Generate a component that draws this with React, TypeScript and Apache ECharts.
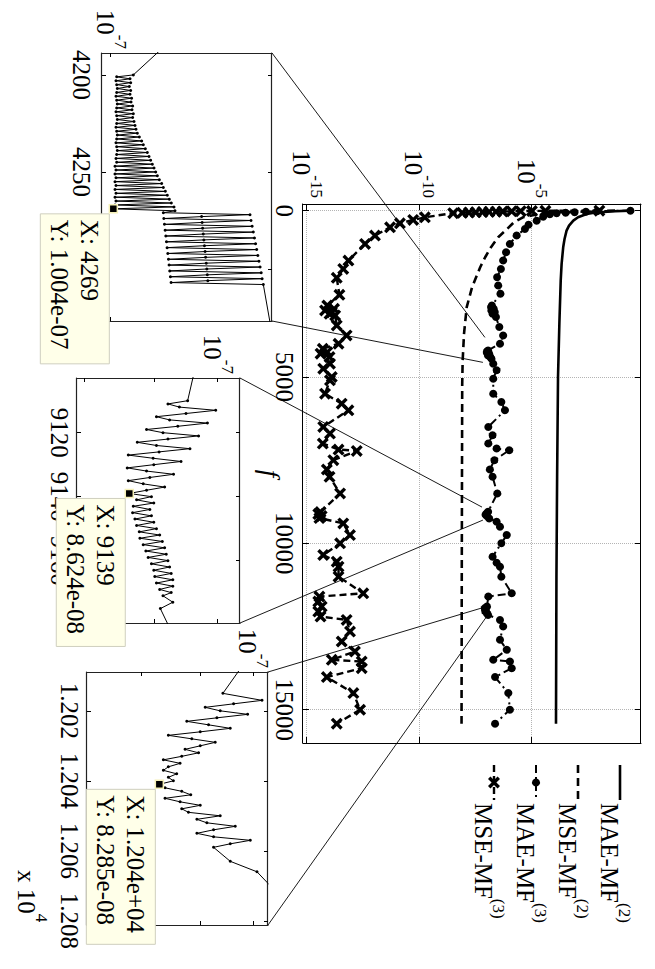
import React, { useEffect, useRef } from "react";
import * as echarts from "echarts";

const FONT = '"Liberation Serif", "Times New Roman", Times, serif';
const BLACK = "#000";

// ---------------- main plot: f vs log10(error) ----------------
const fTicks = [0, 5000, 10000, 15000];
const logTicks = [-15, -10, -5];
const seriesNames = ["MAE-MF(2)", "MSE-MF(2)", "MAE-MF(3)", "MSE-MF(3)"];
const legendBase = ["MAE-MF", "MSE-MF", "MAE-MF", "MSE-MF"];
const legendSup = ["(2)", "(2)", "(3)", "(3)"];

const maeMF2F = [0, 20, 40, 70, 100, 200, 300, 450, 600, 850, 1100, 1600, 2100, 3400, 5000, 8000, 11000, 15420];
const maeMF2Log = [-0.65, -1.3, -1.8, -2.3, -2.57, -2.95, -3.16, -3.35, -3.46, -3.55, -3.61, -3.68, -3.72, -3.78, -3.84, -3.88, -3.91, -3.93];

const mseMF2F = [0, 20, 50, 100, 200, 350, 550, 800, 1100, 1400, 1700, 2300, 2900, 3700, 4500, 5200, 8000, 11000, 15420];
const mseMF2Log = [-1.3, -2.6, -3.8, -4.7, -5.4, -5.8, -6.1, -6.5, -6.82, -7.08, -7.3, -7.66, -7.9, -8.02, -8.08, -8.1, -8.11, -8.12, -8.13];

const maeMF3F = [0, 15, 30, 45, 60, 80, 110, 180, 300, 420, 550, 750, 1000, 1250, 1500, 1750, 2000, 2250, 2500, 2850, 2900, 2950, 3000, 3050, 3100, 3200, 3500, 3750, 4000, 4200, 4230, 4269, 4300, 4350, 4400, 4450, 4600, 4800, 5050, 5500, 5750, 6000, 6500, 6750, 7000, 7150, 7200, 7500, 7780, 8000, 8500, 9050, 9100, 9139, 9180, 9250, 9350, 9500, 9750, 10000, 10400, 10580, 10700, 11000, 11500, 11600, 11900, 11950, 12000, 12040, 12100, 12150, 12300, 12500, 12900, 13200, 13500, 13550, 13750, 14020, 14500, 15000, 15420];
const maeMF3Log = [-0.62, -2.1, -2.6, -3.1, -3.5, -3.9, -4.2, -4.5, -4.79, -5.15, -5.31, -5.68, -5.98, -6.15, -6.28, -6.38, -6.55, -6.5, -6.4, -6.78, -6.82, -6.7, -6.8, -6.65, -6.75, -6.6, -6.45, -6.28, -6.42, -6.95, -7.0, -7.0, -6.9, -6.95, -6.85, -6.8, -6.72, -6.57, -6.72, -6.72, -6.36, -6.2, -6.94, -6.75, -6.94, -6.57, -6.01, -6.67, -6.87, -6.75, -6.54, -6.95, -7.02, -7.06, -7.0, -6.9, -6.57, -6.42, -6.12, -6.36, -6.75, -6.57, -6.42, -6.36, -5.9, -6.94, -7.0, -7.1, -7.05, -7.08, -7.0, -6.95, -6.42, -6.28, -6.42, -6.12, -6.72, -5.98, -5.9, -6.64, -6.05, -5.98, -6.64];

const mseMF3F = [0, 5, 10, 15, 20, 25, 30, 36, 42, 50, 58, 66, 75, 200, 280, 380, 500, 750, 1000, 1500, 1750, 2020, 2530, 2850, 2950, 3000, 3050, 3100, 3150, 3450, 3750, 4000, 4150, 4250, 4300, 4400, 4600, 4750, 5000, 5100, 5500, 5800, 6000, 6500, 6700, 7000, 7180, 7220, 7500, 7780, 8000, 8500, 9060, 9120, 9180, 9240, 9400, 9750, 10000, 10350, 10550, 10700, 11000, 11500, 11600, 11750, 11900, 12050, 12200, 12300, 12650, 12950, 13250, 13500, 13550, 13750, 14020, 14500, 15000, 15420];
const mseMF3Log = [-2.0, -4.4, -5.0, -5.5, -5.9, -6.3, -6.6, -6.9, -7.2, -7.5, -7.8, -8.1, -8.5, -9.76, -10.28, -10.87, -11.31, -11.98, -12.42, -13.16, -13.39, -13.68, -13.56, -14.1, -13.8, -14.2, -13.9, -14.0, -13.75, -13.68, -13.24, -13.6, -14.3, -14.1, -14.4, -14.0, -13.98, -14.28, -13.9, -13.98, -14.2, -13.46, -13.16, -14.28, -13.98, -14.3, -13.6, -12.79, -13.83, -14.12, -14.0, -13.53, -14.4, -14.5, -14.35, -14.45, -13.39, -13.09, -13.53, -14.28, -13.68, -13.6, -13.6, -12.5, -14.45, -14.5, -14.35, -14.5, -14.4, -13.24, -13.09, -13.46, -12.87, -13.9, -12.57, -12.57, -14.12, -12.94, -12.64, -13.68];

// ---------------- insets (MAE-MF(3) zoomed) ----------------
// inset 1 values in units of 1e-7
const inset1Data = [
  [4185, 1.0972], [4200, 1.0391], [4201, 1.0098], [4202, 1.0332], [4203, 1.0086], [4204, 1.0344], [4205, 1.0098], [4206, 1.032], [4207, 1.0109], [4208, 1.0344], [4209, 1.0098], [4210, 1.0332], [4211, 1.0086], [4212, 1.0361], [4213, 1.0098], [4214, 1.035], [4215, 1.0109], [4216, 1.0379], [4217, 1.0098], [4218, 1.0367], [4219, 1.0086], [4220, 1.0391], [4221, 1.0098], [4222, 1.0379], [4223, 1.0109], [4224, 1.0403], [4225, 1.0098], [4226, 1.0421], [4227, 1.0086], [4228, 1.0439], [4229, 1.0098], [4230, 1.0463], [4231, 1.0109], [4232, 1.0499], [4233, 1.0098], [4234, 1.0541], [4235, 1.0086], [4236, 1.0571], [4237, 1.0098], [4238, 1.0608], [4239, 1.0109], [4240, 1.0644], [4241, 1.0098], [4242, 1.0675], [4243, 1.0086], [4244, 1.0705], [4245, 1.0098], [4246, 1.0736], [4247, 1.0069], [4248, 1.0767], [4249, 1.0086], [4250, 1.0798], [4251, 1.0069], [4252, 1.0829], [4253, 1.0086], [4254, 1.0866], [4255, 1.0069], [4256, 1.091], [4257, 1.0086], [4258, 1.0941], [4259, 1.0069], [4260, 1.0979], [4261, 1.0086], [4262, 1.1016], [4263, 1.0069], [4264, 1.1054], [4265, 1.0086], [4266, 1.1092], [4267, 1.0069], [4268, 1.1143], [4269, 1.004], [4270, 1.1162],
  [4271, 1.0941], [4272, 1.2698], [4273, 1.1685], [4274, 1.095], [4275, 1.272], [4276, 1.1695], [4277, 1.0962], [4278, 1.2745], [4279, 1.1705], [4280, 1.0975], [4281, 1.277], [4282, 1.1718], [4283, 1.0988], [4284, 1.2795], [4285, 1.173], [4286, 1.1], [4287, 1.282], [4288, 1.1742], [4289, 1.1012], [4290, 1.2845], [4291, 1.1755], [4292, 1.1025], [4293, 1.287], [4294, 1.1765], [4295, 1.1038], [4296, 1.2895], [4297, 1.1778], [4298, 1.105], [4299, 1.292], [4300, 1.179], [4301, 1.1062], [4302, 1.2945], [4303, 1.18], [4304, 1.1075], [4305, 1.2965], [4306, 1.181], [4307, 1.1088], [4308, 1.2992], [4335, 1.32],
];
// inset 2 values in units of 1e-8
const inset2Data = [
  [9101, 9.612], [9110, 9.506], [9111, 9.199], [9112, 9.376], [9113, 9.962], [9114, 9.48], [9115, 9.024], [9116, 9.224], [9117, 9.825], [9118, 9.351], [9119, 8.876], [9120, 9.123], [9121, 9.681], [9122, 9.199], [9123, 8.74], [9124, 9.024], [9125, 9.543], [9126, 9.064], [9127, 8.61], [9128, 8.974], [9129, 9.402], [9130, 8.984], [9131, 8.595], [9132, 8.876], [9133, 9.285], [9134, 8.925], [9135, 8.61], [9136, 8.827], [9137, 9.148], [9138, 8.876], [9139, 8.624],
  [9140, 8.949], [9141, 8.73], [9142, 8.984], [9143, 8.682], [9144, 8.925], [9145, 8.672], [9146, 8.949], [9147, 8.706], [9148, 8.984], [9149, 8.73], [9150, 9.024], [9151, 8.769], [9152, 9.073], [9153, 8.778], [9154, 9.113], [9155, 8.827], [9156, 9.148], [9157, 8.866], [9158, 9.173], [9159, 8.9], [9160, 9.199], [9161, 8.949], [9162, 9.224], [9163, 8.984], [9164, 9.249], [9165, 8.999], [9166, 9.274], [9167, 9.024], [9168, 9.274], [9169, 9.073], [9170, 9.249], [9171, 9.123], [9173, 9.274], [9175, 9.083], [9181, 9.224],
];
// inset 3 values in units of 1e-8
const inset3Data = [
  [12008, 9.742], [12015, 9.409], [12017, 10.176], [12018, 9.613], [12019, 9.082], [12020, 9.359], [12021, 9.887], [12022, 9.297], [12023, 8.753], [12024, 9.143], [12025, 9.549], [12026, 8.992], [12027, 8.436], [12028, 8.841], [12029, 9.266], [12030, 8.992], [12031, 8.723], [12032, 8.962], [12033, 8.665], [12034, 8.352], [12035, 8.636], [12036, 8.436], [12037, 8.352], [12038, 8.578], [12039, 8.436], [12040, 8.521], [12041, 8.285], [12042, 8.38], [12043, 8.665], [12044, 8.823], [12045, 8.38], [12046, 8.636], [12047, 8.992], [12048, 8.665], [12049, 8.782], [12050, 9.359], [12051, 8.932], [12052, 9.112], [12053, 9.645], [12054, 9.235], [12055, 8.932], [12056, 9.235], [12057, 9.94], [12058, 9.549], [12059, 9.235], [12063, 9.549], [12066, 10.074], [12070, 10.347], [12074, 10.6],
];
const insetUnits = [1e-7, 1e-8, 1e-8];
const insetFRanges = [[4188.7, 4326.8], [9102.9, 9179.5], [12008.9, 12081.2]];
const insetLogRanges = [[-7.00672, -6.87985], [-7.10217, -6.98406], [-7.14461, -6.98722]];
const insetFTicks = [[4200, 4250, 4300], [9120, 9140, 9160], [12020, 12040, 12060, 12080]];
const insetValueTicks = [1e-7, 9e-8, 8e-8];
const insetValueLabels = [1e-7];
const datatipF = [4269, 9139, 12041];
// main-plot anchor points of the callout lines [f, log10 value]
const calloutMain = [
  [[3810, -7.09], [4560, -7.18]],
  [[8910, -7.22], [9300, -7.18]],
  [[11940, -7.22], [12150, -6.96]],
];

const XSYM = "path://M2,0L5,3L8,0L10,2L7,5L10,8L8,10L5,7L2,10L0,8L3,5L0,2Z";
const XPTS = [[2, 0], [5, 3], [8, 0], [10, 2], [7, 5], [10, 8], [8, 10], [5, 7], [2, 10], [0, 8], [3, 5], [0, 2]];

const richSup = {
  b: { fontSize: 25, fontFamily: FONT, color: BLACK, lineHeight: 36, verticalAlign: "bottom" },
  s: { fontSize: 17, fontFamily: FONT, color: BLACK, lineHeight: 12, verticalAlign: "top" },
};

const grids = [
  { left: 204, top: 14, width: 539, height: 338 },
  { left: 53, top: 383, width: 268, height: 170 },
  { left: 378, top: 415, width: 245, height: 163 },
  { left: 672, top: 387, width: 253, height: 181 },
];

const lineStyles: any[] = [
  { width: 2.6, type: "solid" },
  { width: 2.6, type: [8, 5] },
  { width: 2, type: [8, 4, 2, 4] },
  { width: 2.4, type: [7, 4] },
];
const markers = ["none", "none", "circle", "x"];

function lineAxis(extra: any) {
  return {
    type: "value",
    axisLine: { show: true, onZero: false, lineStyle: { color: BLACK, width: 1 } },
    splitLine: { show: false },
    ...extra,
  };
}

function matlabNum(x: number) {
  if (Math.abs(x) < 1e4 && Number.isInteger(x)) return String(x);
  const e = Math.floor(Math.log10(Math.abs(x)));
  const m = x / Math.pow(10, e);
  const sign = e < 0 ? "-" : "+";
  const ee = String(Math.abs(e)).padStart(2, "0");
  return m.toFixed(3) + "e" + sign + ee;
}

function buildOption() {
  const xAxis: any[] = [];
  const yAxis: any[] = [];
  // main
  xAxis.push(lineAxis({
    gridIndex: 0, min: -200, max: 16000, position: "bottom",
    axisTick: { show: true, inside: true, length: 6, customValues: fTicks, lineStyle: { color: BLACK } },
    axisLabel: { show: true, customValues: fTicks, fontSize: 25, fontFamily: FONT, color: BLACK, margin: 6, formatter: (v: number) => String(v) },
    splitLine: { show: true, lineStyle: { type: "dotted", color: "#b4b4b4", width: 1 } },
    name: "f", nameLocation: "middle", nameGap: 20, nameMoveOverlap: false,
    nameTextStyle: { fontStyle: "italic", fontSize: 27, fontFamily: FONT, color: BLACK },
  }));
  xAxis.push(lineAxis({
    gridIndex: 0, min: -200, max: 16000, position: "top",
    axisTick: { show: true, inside: true, length: 6, customValues: fTicks, lineStyle: { color: BLACK } },
    axisLabel: { show: false },
  }));
  yAxis.push(lineAxis({
    gridIndex: 0, min: -15.18, max: -0.15, position: "left",
    axisTick: { show: true, inside: true, length: 6, customValues: logTicks, lineStyle: { color: BLACK } },
    axisLabel: {
      show: true, customValues: logTicks, margin: 6, rich: richSup,
      formatter: (v: number) => `{b|10}{s|${Math.round(v)}}`,
    },
    splitLine: { show: true, lineStyle: { type: "dotted", color: "#b4b4b4", width: 1 } },
  }));
  yAxis.push(lineAxis({
    gridIndex: 0, min: -15.18, max: -0.15, position: "right",
    axisTick: { show: true, inside: true, length: 6, customValues: logTicks, lineStyle: { color: BLACK } },
    axisLabel: { show: false },
  }));
  // insets
  const labelMargins = [8, 5, 5];
  for (let k = 0; k < 3; k++) {
    const gi = k + 1;
    const [fmin, fmax] = insetFRanges[k];
    const [lmin, lmax] = insetLogRanges[k];
    const vt = insetValueTicks.map((v) => Math.log10(v)).filter((l) => l >= lmin && l <= lmax);
    const vl = insetValueLabels.map((v) => Math.log10(v)).filter((l) => l >= lmin && l <= lmax);
    const ft = insetFTicks[k];
    const tick = (vals: number[]) => ({ show: true, inside: true, length: 4, customValues: vals, lineStyle: { color: BLACK } });
    const boxLine = { show: true, onZero: false, lineStyle: { color: "#222", width: 1.2 } };
    xAxis.push(lineAxis({
      gridIndex: gi, min: fmin, max: fmax, position: "bottom", axisLine: boxLine, axisTick: tick(ft),
      axisLabel: {
        show: true, customValues: ft, fontSize: 25, fontFamily: FONT, color: BLACK, margin: labelMargins[k],
        formatter: (v: number) => (k === 2 ? (v / 1e4).toFixed(3) : String(v)),
      },
    }));
    xAxis.push(lineAxis({ gridIndex: gi, min: fmin, max: fmax, position: "top", axisLine: boxLine, axisTick: tick(ft), axisLabel: { show: false } }));
    yAxis.push(lineAxis({
      gridIndex: gi, min: lmin, max: lmax, position: "left", axisLine: boxLine, axisTick: tick(vt),
      axisLabel: { show: true, customValues: vl, margin: 4, rich: richSup, formatter: (v: number) => `{b|10}{s|${Math.round(v)}}` },
    }));
    yAxis.push(lineAxis({ gridIndex: gi, min: lmin, max: lmax, position: "right", axisLine: boxLine, axisTick: tick(vt), axisLabel: { show: false } }));
  }

  const mk = (fs: number[], ls: number[]) => fs.map((f, i) => [f, ls[i]]);
  const mainCommon = { type: "line", xAxisIndex: 0, yAxisIndex: 0, silent: true, animation: false, emphasis: { disabled: true }, itemStyle: { color: BLACK } };
  const mainData = [mk(maeMF2F, maeMF2Log), mk(mseMF2F, mseMF2Log), mk(maeMF3F, maeMF3Log), mk(mseMF3F, mseMF3Log)];
  const series: any[] = mainData.map((d, i) => ({
    ...mainCommon,
    name: seriesNames[i],
    data: d,
    symbol: markers[i] === "x" ? XSYM : markers[i],
    symbolSize: markers[i] === "x" ? 12 : 8,
    lineStyle: { color: BLACK, ...lineStyles[i] },
  }));
  const insetSets = [inset1Data, inset2Data, inset3Data];
  insetSets.forEach((d, k) => {
    series.push({
      type: "line", xAxisIndex: 2 * (k + 1), yAxisIndex: 2 * (k + 1), silent: true, animation: false,
      emphasis: { disabled: true }, clip: true,
      data: d.map(([f, v]) => [f, Math.log10(v * insetUnits[k])]),
      symbol: "circle", symbolSize: 3, itemStyle: { color: BLACK },
      lineStyle: { color: BLACK, width: 1 },
    });
  });

  return {
    animation: false,
    backgroundColor: "#fff",
    textStyle: { fontFamily: FONT },
    grid: grids.map((g) => ({ ...g, containLabel: false, outerBoundsMode: "none" })),
    xAxis, yAxis, series,
  };
}

export default function App() {
  const ref = useRef<HTMLDivElement>(null);
  useEffect(() => {
    if (!ref.current) return;
    const chart = echarts.init(ref.current, null, { renderer: "svg" });
    chart.setOption(buildOption() as any);

    const graphic: any[] = [];
    const px = (xi: number, yi: number, pt: number[]) => chart.convertToPixel({ xAxisIndex: xi, yAxisIndex: yi } as any, pt) as number[];
    const insetSets = [inset1Data, inset2Data, inset3Data];
    for (let k = 0; k < 3; k++) {
      const ai = 2 * (k + 1);
      const [fmin, fmax] = insetFRanges[k];
      const lmax = insetLogRanges[k][1];
      const corners = [px(ai, ai, [fmin, lmax]), px(ai, ai, [fmax, lmax])];
      calloutMain[k].forEach((pt, j) => {
        const p = px(0, 0, pt);
        graphic.push({
          type: "line", z: 60, silent: true,
          shape: { x1: corners[j][0], y1: corners[j][1], x2: p[0], y2: p[1] },
          style: { stroke: BLACK, lineWidth: 0.9 },
        });
      });
      // datatip
      const rec = insetSets[k].find((d) => d[0] === datatipF[k])!;
      const val = rec[1] * insetUnits[k];
      const p = px(ai, ai, [rec[0], Math.log10(val)]);
      const lines = ["X: " + matlabNum(rec[0]), "Y: " + matlabNum(val)];
      const w = k === 2 ? 155 : k === 0 ? 150 : 148;
      const bx = p[0] + 5;
      const by = p[1] + 4;
      graphic.push({
        type: "rect", z: 70, silent: true,
        shape: { x: bx, y: by, width: w, height: 69 },
        style: { fill: "#ffffe9", stroke: "#cfcfbf", lineWidth: 1 },
      });
      lines.forEach((t, j) => {
        graphic.push({
          type: "text", z: 71, silent: true, x: bx + 6, y: by + 20 + j * 30,
          style: { text: t, fontSize: 25, fontFamily: FONT, fill: BLACK, align: "left", verticalAlign: "middle" },
        });
      });
      graphic.push({
        type: "rect", z: 72, silent: true,
        shape: { x: p[0] - 4, y: p[1] - 4, width: 8, height: 8 },
        style: { fill: BLACK, stroke: "#f5f0b8", lineWidth: 1.5 },
      });
    }
    // exponent label of inset 3 f axis
    graphic.push({
      type: "text", z: 65, silent: true, x: 870, y: 623,
      style: { text: "{b|x 10}{s|4}", rich: richSup, fill: BLACK, fontFamily: FONT, fontSize: 25, align: "left", verticalAlign: "middle" },
    });
    // legend (drawn to match the MATLAB legend: line sample, marker, label)
    const legendLeft = 765;
    const legendLen = 35;
    seriesNames.forEach((name, i) => {
      const baseY = 40 + 42 * i;
      const ly = baseY - 5;
      const ls = lineStyles[i];
      graphic.push({
        type: "line", z: 65, silent: true,
        shape: { x1: legendLeft, y1: ly, x2: legendLeft + legendLen, y2: ly },
        style: { stroke: BLACK, lineWidth: ls.width, lineDash: Array.isArray(ls.type) ? ls.type : null },
      });
      const cx = legendLeft + legendLen / 2;
      if (markers[i] === "circle") {
        graphic.push({ type: "circle", z: 66, silent: true, shape: { cx, cy: ly, r: 4 }, style: { fill: BLACK } });
      } else if (markers[i] === "x") {
        graphic.push({
          type: "polygon", z: 66, silent: true,
          shape: { points: XPTS.map(([a, b]) => [cx - 6 + a * 1.2, ly - 6 + b * 1.2]) },
          style: { fill: BLACK },
        });
      }
      graphic.push({
        type: "text", z: 66, silent: true, x: legendLeft + legendLen + 3, y: baseY,
        style: { text: `{b|${legendBase[i]}}{s|${legendSup[i]}}`, rich: richSup, fill: BLACK, fontFamily: FONT, fontSize: 25, align: "left", verticalAlign: "middle" },
      });
    });
    chart.setOption({ graphic } as any);
    return () => chart.dispose();
  }, []);

  return (
    <div style={{ position: "fixed", left: 0, top: 0, width: 655, height: 969, overflow: "hidden", background: "#fff" }}>
      <div
        ref={ref}
        style={{
          position: "absolute", left: 0, top: 0, width: 969, height: 655,
          transformOrigin: "0 0", transform: "translate(655px, 0px) rotate(90deg)",
        }}
      />
    </div>
  );
}
